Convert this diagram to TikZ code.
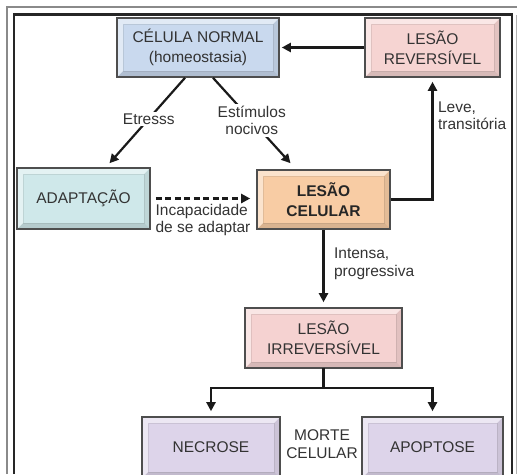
\documentclass[tikz,border=0pt]{standalone}
\usepackage{fontspec}
\setmainfont{Liberation Sans}
\usetikzlibrary{arrows.meta,calc}
\definecolor{cnormal}{HTML}{C9D9EE}
\definecolor{crev}{HTML}{F6D4D2}
\definecolor{cadapt}{HTML}{CFE8EA}
\definecolor{ccel}{HTML}{F8CCA4}
\definecolor{cirr}{HTML}{F5D2D1}
\definecolor{cmorte}{HTML}{DDD4EA}
\definecolor{txt}{HTML}{333333}
\definecolor{lin}{HTML}{1A1A1A}
\definecolor{bline}{HTML}{4E4E4E}
\definecolor{outergray}{HTML}{8A8A8A}
\newcommand{\boxfont}{\fontsize{15.5}{20}\selectfont}
\newcommand{\lblfont}{\fontsize{15.5}{17.5}\selectfont}
\begin{document}
\begin{tikzpicture}[x=1pt,y=-1pt,
  box/.style={draw=bline, line width=1.6pt, fill=#1, inner sep=0pt,
    text=txt, align=center, font=\boxfont,
    path picture={
      \fill[#1!65!black, opacity=.35]
        (path picture bounding box.south west) -- (path picture bounding box.south east)
        -- ([shift={(-6pt,6pt)}]path picture bounding box.south east)
        -- ([shift={(6pt,6pt)}]path picture bounding box.south west) -- cycle;
      \fill[#1!65!black, opacity=.22]
        (path picture bounding box.south east) -- (path picture bounding box.north east)
        -- ([shift={(-6pt,-6pt)}]path picture bounding box.north east)
        -- ([shift={(-6pt,6pt)}]path picture bounding box.south east) -- cycle;
      \fill[white, opacity=.45]
        (path picture bounding box.south west) -- (path picture bounding box.north west)
        -- (path picture bounding box.north east)
        -- ([shift={(-6pt,-6pt)}]path picture bounding box.north east)
        -- ([shift={(6pt,-6pt)}]path picture bounding box.north west)
        -- ([shift={(6pt,6pt)}]path picture bounding box.south west) -- cycle;
      \draw[#1!55!black, opacity=.2, line width=0.5pt]
        ([shift={(6pt,6pt)}]path picture bounding box.south west) rectangle
        ([shift={(-6pt,-6pt)}]path picture bounding box.north east);
    }},
  lbl/.style={text=txt, font=\lblfont, align=left, inner sep=1.5pt},
  conn/.style={draw=lin, line width=2.2pt, -{Triangle[length=9pt,width=9pt]}},
  plain/.style={draw=lin, line width=2.2pt},
]
\useasboundingbox (0,0) rectangle (518,474);
% frame
\draw[outergray, line width=2pt] (7,474) -- (7,7) -- (517,7);
\draw[black!85, line width=2.5pt] (14,474) -- (14,14.5) -- (512,14.5) -- (512,474);
\draw[black!30, line width=0.8pt] (516,15) -- (516,474);

% boxes
\node[box=cnormal, minimum width=162pt, minimum height=59pt] (normal) at (198,47.5) {CÉLULA NORMAL\\(homeostasia)};
\node[box=crev, minimum width=135pt, minimum height=59pt] (rev) at (432.5,47.5) {LESÃO\\REVERSÍVEL};
\node[box=cadapt, minimum width=133pt, minimum height=61pt] (adapt) at (83.5,198.5) {ADAPTAÇÃO};
\node[box=ccel, minimum width=133pt, minimum height=59pt, font=\boxfont\bfseries, text=black!85] (cel) at (323.5,199.5) {LESÃO\\CELULAR};
\node[box=cirr, minimum width=157pt, minimum height=60pt] (irr) at (323.5,338) {LESÃO\\IRREVERSÍVEL};
\node[box=cmorte, minimum width=138pt, minimum height=61pt] (nec) at (211,447.5) {NECROSE};
\node[box=cmorte, minimum width=141pt, minimum height=61pt] (apo) at (432.5,447.5) {APOPTOSE};
\node[lbl, align=center] (morte) at (322,444) {MORTE\\CELULAR};

% connectors
\draw[conn, shorten >=2pt] (rev) -- (normal);
\draw[conn] ([xshift=-13pt]normal.south) -- node[lbl, fill=white, pos=0.48] (etr) {Etresss} ([xshift=26pt,yshift=4pt]adapt.north);
\draw[conn] ([xshift=15pt]normal.south) -- node[lbl, fill=white, pos=0.5, align=center] (est) {Estímulos\\nocivos} ([xshift=-33pt,yshift=6pt]cel.north);
\draw[conn, dash pattern=on 6pt off 3.5pt] ($(adapt.east)+(5pt,0)$) -- node[lbl, anchor=north, pos=0.5, yshift=-3pt] (inc) {Incapacidade\\de se adaptar} ($(adapt.east -| cel.west)+(-6pt,0)$);
\draw[conn, shorten >=4pt] (cel.east) -| node[lbl, pos=0.845, anchor=west, xshift=3pt] (leve) {Leve,\\transitória} (rev.south);
\draw[conn, shorten >=5pt] (cel.south) -- node[lbl, pos=0.437, anchor=west, xshift=8pt] (int) {Intensa,\\progressiva} (irr.north);
\draw[plain, line cap=rect] (irr.south) -- ++(0,19) coordinate (split);
\draw[conn, shorten >=5pt] (split) -| (nec.north);
\draw[conn, shorten >=5pt] (split) -| (apo.north);
\end{tikzpicture}
\end{document}
